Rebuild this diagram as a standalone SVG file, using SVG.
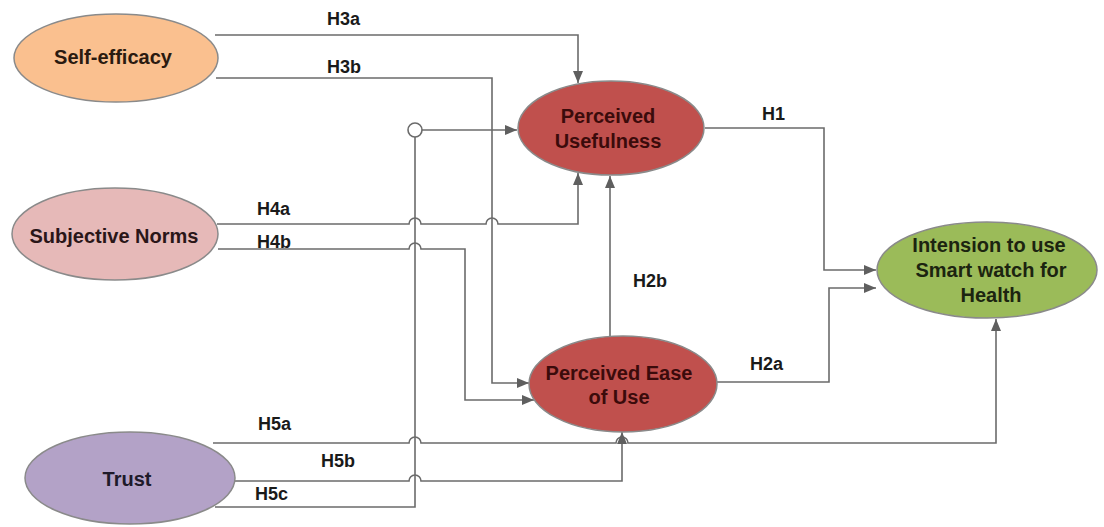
<svg xmlns="http://www.w3.org/2000/svg" width="1104" height="527" viewBox="0 0 1104 527">
<style>
.bg{fill:#ffffff}
.node ellipse{stroke:#8a8a8a;stroke-width:1.5}
.nt{font-family:"Liberation Sans",Arial,sans-serif;font-weight:bold;font-size:20px;text-anchor:middle}
.lbl{font-family:"Liberation Sans",Arial,sans-serif;font-weight:bold;font-size:18px;fill:#1a1a1a}
.c{fill:none;stroke:#6b6b6b;stroke-width:1.6}
.a{marker-end:url(#arr)}
</style>
<defs>
<marker id="arr" markerUnits="userSpaceOnUse" markerWidth="12" markerHeight="10" viewBox="0 0 12 10" refX="12" refY="5" orient="auto">
<path d="M0,0 L12,5 L0,10 z" fill="#5f5f5f"/>
</marker>
</defs>
<rect class="bg" x="0" y="0" width="1104" height="527"/>
<g id="connectors">
<path class="c a" d="M215,35 H578 V83"/>
<path class="c a" d="M216,78 H492 V383 H529"/>
<path class="c" d="M215,507 H415 V137"/>
<circle cx="415" cy="130" r="7" fill="#fff" stroke="#6b6b6b" stroke-width="1.6"/>
<path class="c a" d="M422,130 H517"/>
<path class="c a" d="M217,224 H409 a6,6 0 0 1 12,0 H486 a6,6 0 0 1 12,0 H578 V173"/>
<path class="c a" d="M218,249 H409 a6,6 0 0 1 12,0 H465 V400 H534"/>
<path class="c a" d="M610,337 V176"/>
<path class="c a" d="M705,128 H824 V270 H876"/>
<path class="c a" d="M717,382 H829 V288 H876"/>
<path class="c a" d="M213,443 H409 a6,6 0 0 1 12,0 H616 a6,6 0 0 1 12,0 H996 V319"/>
<path class="c a" d="M232,481 H409 a6,6 0 0 1 12,0 H622 V432"/>
</g>
<g id="self-efficacy" class="node">
<ellipse cx="116" cy="58" rx="102" ry="44" fill="#fac08f"/>
<text class="nt" x="113" y="64" fill="#2a1a10">Self-efficacy</text>
</g>
<g id="subjective-norms" class="node">
<ellipse cx="115" cy="234" rx="103" ry="46" fill="#e6b9b8"/>
<text class="nt" x="114" y="243" fill="#2a1618">Subjective Norms</text>
</g>
<g id="trust" class="node">
<ellipse cx="130" cy="478" rx="105" ry="46" fill="#b3a2c7"/>
<text class="nt" x="127" y="486" fill="#1e1a2a">Trust</text>
</g>
<g id="perceived-usefulness" class="node">
<ellipse cx="611" cy="128" rx="93" ry="47" fill="#c0504d"/>
<text class="nt" x="608" y="123" fill="#3b0b0b">Perceived</text>
<text class="nt" x="608" y="148" fill="#3b0b0b">Usefulness</text>
</g>
<g id="perceived-ease-of-use" class="node">
<ellipse cx="623" cy="384" rx="94" ry="48" fill="#c0504d"/>
<text class="nt" x="619" y="380" fill="#3b0b0b">Perceived Ease</text>
<text class="nt" x="619" y="404" fill="#3b0b0b">of Use</text>
</g>
<g id="intension" class="node">
<ellipse cx="987" cy="270" rx="110" ry="48" fill="#9bbb59"/>
<text class="nt" x="989" y="252" fill="#1c2410">Intension to use</text>
<text class="nt" x="991" y="277" fill="#1c2410">Smart watch for</text>
<text class="nt" x="991" y="302" fill="#1c2410">Health</text>
</g>
<g id="labels">
<text class="lbl" x="327" y="25">H3a</text>
<text class="lbl" x="327" y="73">H3b</text>
<text class="lbl" x="762" y="120">H1</text>
<text class="lbl" x="257" y="215">H4a</text>
<text class="lbl" x="257" y="248">H4b</text>
<text class="lbl" x="633" y="287">H2b</text>
<text class="lbl" x="750" y="370">H2a</text>
<text class="lbl" x="258" y="430">H5a</text>
<text class="lbl" x="321" y="467">H5b</text>
<text class="lbl" x="255" y="500">H5c</text>
</g>
</svg>
